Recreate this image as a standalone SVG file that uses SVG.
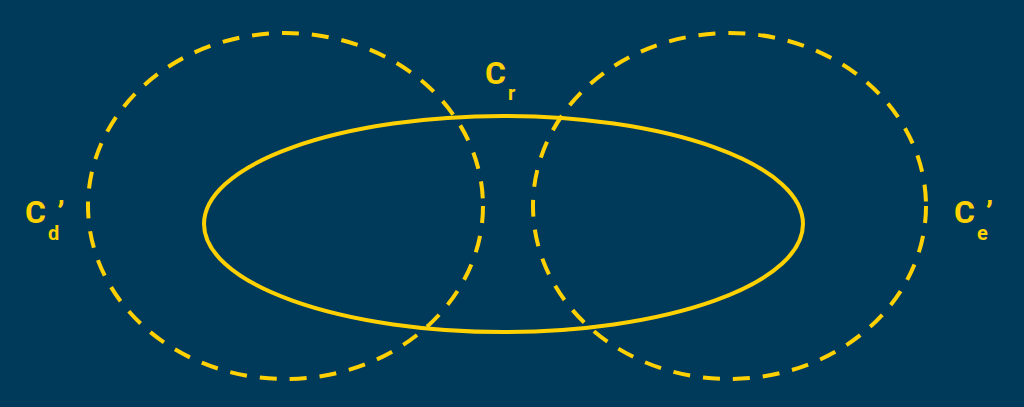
<svg xmlns="http://www.w3.org/2000/svg" width="1024" height="407" viewBox="0 0 1024 407">
<style>
.dash{fill:none;stroke:#ffd100;stroke-width:4;stroke-dasharray:17 13}
.solid{fill:none;stroke:#ffd100;stroke-width:4}
.lbl{fill:#ffd100;font-family:Roboto,"Liberation Sans",sans-serif;font-weight:bold}
.big{font-size:32px}
.sub{font-size:20px}
</style>
<rect width="1024" height="407" fill="#003a5b"/>
<g id="cd"><ellipse class="dash" cx="285.5" cy="206" rx="197.5" ry="173"/></g>
<g id="ce"><ellipse class="dash" cx="729.5" cy="206" rx="196.5" ry="173"/></g>
<g id="cr"><ellipse class="solid" cx="503.5" cy="224" rx="299.5" ry="108"/></g>
<g id="labels">
<text class="lbl" x="25" y="223"><tspan class="big">C</tspan><tspan class="sub" dx="2" dy="17">d</tspan><tspan class="big" dx="-2" dy="-17">’</tspan></text>
<text class="lbl" x="954" y="223"><tspan class="big">C</tspan><tspan class="sub" dx="2" dy="17">e</tspan><tspan class="big" dx="-2" dy="-17">’</tspan></text>
<text class="lbl" x="485" y="84"><tspan class="big">C</tspan><tspan class="sub" dx="2" dy="16">r</tspan></text>
</g>
</svg>
